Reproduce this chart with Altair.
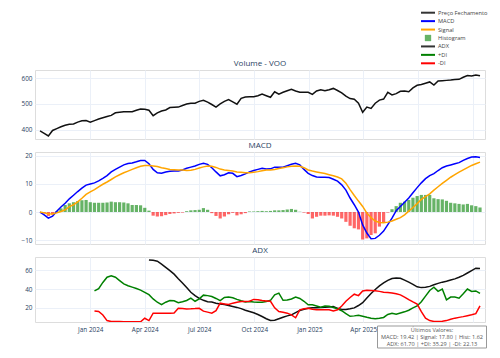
import altair as alt
import pandas as pd

FONT = "Open Sans"
GRID = "#ebf0f8"
TICK = "#2a3f5f"

start_date = "2023-10-09"

price = [396, 387, 377, 398, 405, 412, 418, 422, 423, 430,
         435, 436, 430, 436, 442, 447, 452, 456, 466, 468,
         470, 470, 470, 476, 481, 480, 476, 455, 466, 473,
         477, 486, 487, 488, 494, 500, 503, 503, 510, 514,
         507, 498, 488, 500, 510, 517, 508, 499, 522, 527,
         528, 528, 532, 538, 532, 526, 547, 538, 545, 551,
         557, 550, 545, 545, 545, 537, 550, 555, 551, 555,
         560, 552, 543, 530, 521, 518, 503, 468, 488, 483,
         503, 515, 519, 545, 535, 540, 549, 550, 547, 562,
         572, 575, 580, 585, 573, 589, 590, 591, 592, 594,
         595, 603, 610, 608, 612, 609]

macd = [0.0, -1.0, -2.2, -1.5, 0.3, 1.8, 3.1, 4.7, 6.0, 7.3,
        8.5, 9.6, 10.0, 10.4, 11.1, 12.0, 13.0, 14.3, 15.2, 16.0,
        16.8, 17.3, 17.5, 17.9, 18.4, 18.4, 17.2, 15.2, 14.0, 13.8,
        14.3, 14.5, 14.6, 14.6, 15.0, 15.6, 16.0, 16.4, 17.0, 17.4,
        17.0, 15.8, 14.3, 12.9, 13.3, 14.0, 13.8, 12.6, 13.0, 13.6,
        14.3, 14.8, 15.2, 15.6, 15.3, 15.4, 16.0, 16.0, 16.0, 16.5,
        17.0, 17.4, 16.8, 15.2, 13.8, 13.0, 12.5, 12.4, 12.4, 12.3,
        11.7, 11.0, 9.7, 7.8, 5.0, 2.6, 0.0, -4.6, -7.5, -9.5,
        -9.4, -8.3, -6.8, -4.5, -2.2, 0.5, 2.0, 3.5, 5.0, 6.9,
        8.7, 10.4, 11.9, 13.0, 13.7, 14.8, 15.8, 16.4, 16.8, 17.2,
        17.6, 18.4, 19.1, 19.6, 19.7, 19.42]

signal = [0.0, -0.3, -0.6, -0.7, -0.3, 0.2, 0.8, 1.9, 2.6, 3.6,
          4.9, 6.3, 7.2, 8.0, 9.0, 9.9, 10.7, 11.6, 12.5, 13.3,
          14.0, 14.6, 15.2, 15.8, 16.3, 16.6, 16.6, 16.4, 16.2, 15.8,
          15.5, 15.2, 15.1, 15.0, 15.0, 14.8, 14.9, 15.2, 15.7, 16.1,
          16.4, 16.3, 15.9, 15.3, 15.0, 14.8, 14.6, 14.3, 14.2, 14.0,
          14.0, 14.2, 14.4, 14.7, 15.0, 15.0, 15.2, 15.5, 15.8, 16.1,
          16.3, 16.4, 16.3, 15.8, 15.0, 14.6, 14.3, 14.0, 13.7, 13.3,
          12.9, 12.5, 11.8, 10.3, 8.0, 5.9, 3.9, 2.0, -0.4, -2.0,
          -3.2, -3.7, -3.8, -3.6, -3.2, -2.6, -2.0, -1.0, 0.3, 1.6,
          3.0, 4.5, 5.5, 6.5, 7.8, 9.0, 10.2, 11.3, 12.4, 13.3,
          14.2, 15.0, 15.8, 16.6, 17.2, 17.80]

hist = [0.0, -0.5, -1.4, -0.9, 0.3, 1.3, 2.5, 3.1, 3.5, 3.9,
        4.2, 4.3, 3.5, 3.3, 3.3, 3.3, 3.4, 3.7, 3.5, 3.5,
        3.4, 3.1, 2.5, 2.5, 2.4, 1.5, 0.5, -1.3, -1.6, -1.5,
        -1.1, -0.7, -0.5, -0.3, -0.2, 0.3, 0.6, 0.7, 0.8, 1.4,
        0.8, -0.4, -1.4, -2.3, -1.6, -0.8, -0.3, -1.2, -0.8, -0.4,
        0.2, 0.2, 0.3, 0.4, 0.3, 0.4, 0.6, 0.6, 0.7, 0.9,
        1.1, 0.8, 0.1, -0.2, -0.7, -2.3, -1.7, -1.3, -1.3, -1.2,
        -1.3, -1.7, -2.3, -3.5, -4.9, -5.8, -6.2, -9.8, -9.4, -8.2,
        -7.6, -5.2, -3.8, -0.2, 1.0, 2.1, 3.3, 3.7, 4.3, 5.1,
        5.7, 6.1, 6.1, 6.1, 4.9, 4.6, 4.5, 4.0, 3.3, 3.1,
        2.9, 2.7, 2.9, 2.4, 2.1, 1.62]

adx = [None] * 26 + [
    70.9, 70.5, 69.6, 66.5, 63.0, 59.5, 55.8, 51.0, 46.5, 41.5,
    36.5, 33.0, 30.0, 28.0, 26.5, 26.2, 25.0, 24.0, 23.5, 22.5,
    21.5, 20.5, 19.2, 17.5, 16.1, 14.8, 13.0, 10.8, 8.5, 6.6,
    6.8, 8.4, 10.1, 11.5, 12.6, 15.0, 17.3, 18.5, 19.5, 20.0,
    20.2, 20.3, 20.6, 21.0, 21.4, 19.5, 18.3, 18.2, 19.0, 20.0,
    22.5, 25.5, 30.5, 35.2, 39.5, 43.3, 46.5, 49.2, 51.2, 51.8,
    51.5, 49.5, 47.3, 45.0, 42.3, 41.5, 41.8, 42.8, 44.5, 46.0,
    47.3, 48.3, 49.5, 50.8, 52.5, 54.5, 57.0, 59.6, 62.1, 61.70]

plus_di = [None] * 13 + [
    38.0, 40.5, 47.0, 52.5, 54.0, 52.5, 49.0, 45.5, 43.5, 42.0,
    40.5, 38.8, 36.5, 34.0, 29.5, 26.0, 23.5, 26.0, 27.8, 27.5,
    25.5, 26.5, 27.8, 30.3, 27.0, 29.5, 33.5, 33.0, 32.0, 30.0,
    27.6, 31.0, 31.5, 30.8, 29.0, 27.5, 26.2, 26.7, 26.2, 26.0,
    26.0, 26.8, 28.0, 33.8, 35.6, 28.0, 28.3, 29.5, 31.5, 30.0,
    27.0, 23.2, 23.2, 22.0, 20.8, 22.0, 21.6, 20.4, 19.0, 17.0,
    14.0, 11.0, 11.5, 12.2, 11.2, 10.0, 9.0, 8.5, 9.0, 9.8,
    13.0, 14.2, 13.3, 14.5, 15.8, 17.5, 20.0, 22.0, 26.5, 32.5,
    38.5, 42.0, 37.5, 40.0, 28.5, 31.5, 31.5, 30.3, 35.0, 40.0,
    37.5, 38.0, 35.29]

minus_di = [None] * 13 + [
    16.8, 16.2, 12.5, 6.5, 5.5, 5.5, 5.4, 5.3, 5.3, 5.3,
    5.3, 5.2, 9.0, 6.5, 14.4, 14.4, 14.4, 14.2, 14.4, 14.6,
    19.5, 19.2, 18.9, 19.0, 19.2, 19.5, 16.5, 15.5, 14.4, 17.0,
    25.0, 24.2, 23.5, 25.0, 26.0, 26.7, 26.8, 27.0, 29.0, 28.7,
    27.8, 27.4, 27.0, 20.0, 16.1, 15.3, 14.4, 12.5, 9.5, 17.9,
    19.0, 19.5, 18.5, 18.0, 17.9, 17.9, 17.9, 16.8, 17.9, 22.0,
    27.0, 31.0, 34.5, 33.0, 38.0, 38.8, 38.5, 38.2, 37.5, 36.7,
    36.2, 35.7, 35.0, 33.8, 31.5, 28.8, 26.3, 24.0, 16.0, 9.0,
    6.5, 5.6, 5.5, 5.9, 6.5, 8.0, 9.1, 9.9, 10.7, 11.7,
    12.7, 13.9, 22.13]

series_names = ["Preço Fechamento", "MACD", "Signal", "Histogram", "ADX", "+DI", "-DI"]
series_colors = ["#333333", "#0000ff", "#ffa500", "#66b366", "#333333", "#008000", "#ff0000"]
series_kind = ["line", "line", "line", "bar", "line", "line", "line"]
series_row = [0, 1, 2, 3, 4, 5, 6]

tick_dates = [alt.DateTime(year=y, month=m, date=1) for (y, m) in
              [(2024, 1), (2024, 4), (2024, 7), (2024, 10), (2025, 1), (2025, 4), (2025, 7), (2025, 10)]]

dates = pd.date_range(start_date, periods=len(price), freq="7D").strftime("%Y-%m-%dT00:00:00")
df = pd.DataFrame({
    "date": dates, "price": price, "macd": macd, "signal": signal, "hist": hist,
    "adx": adx, "plus_di": plus_di, "minus_di": minus_di,
})

W = 450
TICK_FS = 6.4

hidden_x = alt.Axis(labels=False, ticks=False, domain=False, grid=True, gridColor=GRID,
                    values=tick_dates, title=None)
bottom_x = alt.Axis(format="%b %Y", labelFontSize=TICK_FS, labelColor=TICK, labelFont=FONT,
                    ticks=False, domain=False, grid=True, gridColor=GRID, values=tick_dates,
                    title=None, labelPadding=4, labelOverlap=False)
xs = alt.Scale(nice=False)


def y_axis(vals):
    return alt.Axis(values=vals, ticks=False, domain=False, grid=True, gridColor=GRID,
                    labelFontSize=TICK_FS, labelColor=TICK, labelFont=FONT, title=None,
                    labelPadding=3, labelOverlap=False)


def title(t):
    return alt.TitleParams(t, fontSize=8, color=TICK, font=FONT, fontWeight="normal",
                           anchor="middle", offset=2)


base = alt.Chart(df)

# --- Legend row (its rows placed through a linear scale)
legend_df = pd.DataFrame({"serie": series_names, "kind": series_kind, "row": series_row})
leg_y = alt.Y("row:Q", scale=alt.Scale(domain=[0, 6], range=[4.7, 55.3]), axis=None)
leg_color = alt.Color("serie:N", scale=alt.Scale(domain=series_names, range=series_colors), legend=None)
leg_base = alt.Chart(legend_df)
leg_lines = leg_base.transform_filter("datum.kind == 'line'").mark_rule(strokeWidth=2).encode(
    x=alt.value(386), x2=alt.value(400), y=leg_y, color=leg_color)
leg_square = leg_base.transform_filter("datum.kind == 'bar'").mark_square(size=40, opacity=1).encode(
    x=alt.value(393), y=leg_y, color=leg_color)
leg_text = leg_base.mark_text(align="left", baseline="middle", fontSize=5.7, font=FONT,
                              color="#444444").encode(
    x=alt.value(403), y=leg_y, text="serie:N")
legend_row = alt.layer(leg_lines, leg_square, leg_text).properties(
    width=W, height=49, view=alt.ViewBackground(stroke=None, strokeWidth=0))

# --- Price panel
price_line = base.mark_line(color="#111111", strokeWidth=1.5).encode(
    x=alt.X("date:T", scale=xs, axis=hidden_x),
    y=alt.Y("price:Q", scale=alt.Scale(domain=[365, 631], nice=False, zero=False),
            axis=y_axis([400, 500, 600])),
)
price_panel = price_line.properties(width=W, height=69, title=title("Volume - VOO"))

# --- MACD panel
macd_y = alt.Scale(domain=[-11.4, 21.4], nice=False, zero=False)
macd_axis = y_axis([-10, 0, 10, 20])
bars = base.mark_bar(width=3.2, opacity=0.6).encode(
    x=alt.X("date:T", scale=xs, axis=hidden_x),
    y=alt.Y("hist:Q", scale=macd_y, axis=macd_axis),
    y2=alt.datum(0),
    color=alt.condition("datum.hist >= 0", alt.value("#008000"), alt.value("#ff0000")),
)
macd_line = base.mark_line(color="#0000ff", strokeWidth=1.5).encode(
    x=alt.X("date:T", scale=xs, axis=hidden_x),
    y=alt.Y("macd:Q", scale=macd_y, axis=macd_axis))
signal_line = base.mark_line(color="#ffa500", strokeWidth=1.5).encode(
    x=alt.X("date:T", scale=xs, axis=hidden_x),
    y=alt.Y("signal:Q", scale=macd_y, axis=macd_axis))
macd_panel = alt.layer(bars, macd_line, signal_line).properties(
    width=W, height=92, title=title("MACD"))

# --- ADX panel
adx_y = alt.Scale(domain=[5, 74], nice=False, zero=False)
adx_axis = y_axis([20, 40, 60])
adx_line = base.mark_line(color="#111111", strokeWidth=1.5, clip=True).encode(
    x=alt.X("date:T", scale=xs, axis=bottom_x),
    y=alt.Y("adx:Q", scale=adx_y, axis=adx_axis),
)
pdi_line = base.mark_line(color="#008000", strokeWidth=1.5, clip=True).encode(
    x=alt.X("date:T", scale=xs, axis=bottom_x),
    y=alt.Y("plus_di:Q", scale=adx_y, axis=adx_axis))
mdi_line = base.mark_line(color="#ff0000", strokeWidth=1.5, clip=True).encode(
    x=alt.X("date:T", scale=xs, axis=bottom_x),
    y=alt.Y("minus_di:Q", scale=adx_y, axis=adx_axis))

info_lines = [
    "Últimos Valores:",
    f"MACD: {macd[-1]:.2f} | Signal: {signal[-1]:.2f} | Hist: {hist[-1]:.2f}",
    f"ADX: {adx[-1]:.2f} | +DI: {plus_di[-1]:.2f} | -DI: {minus_di[-1]:.2f}",
]
one = alt.Chart(pd.DataFrame({"k": [0]}))
info_box = one.mark_rect(fill="white", stroke="#999999", strokeWidth=1).encode(
    x=alt.value(342.5), x2=alt.value(451.5), y=alt.value(69), y2=alt.value(91))
info_text = one.mark_text(fontSize=5.6, font=FONT, color="#555555", align="center",
                          baseline="top", lineHeight=7.4).encode(
    x=alt.value(397), y=alt.value(70.5), text=alt.value(info_lines))
adx_panel = alt.layer(adx_line, pdi_line, mdi_line, info_box, info_text).properties(
    width=W, height=65, title=title("ADX"))

chart = alt.vconcat(legend_row, price_panel, macd_panel, adx_panel, spacing=13,
                    bounds="flush").resolve_scale(
    x="shared"
).properties(
    padding={"left": 12, "top": 0, "right": 0, "bottom": 0}
).configure_view(stroke="transparent", strokeWidth=0).configure(background="white")

chart.save("out.html", embed_options={"renderer": "svg", "actions": False})
